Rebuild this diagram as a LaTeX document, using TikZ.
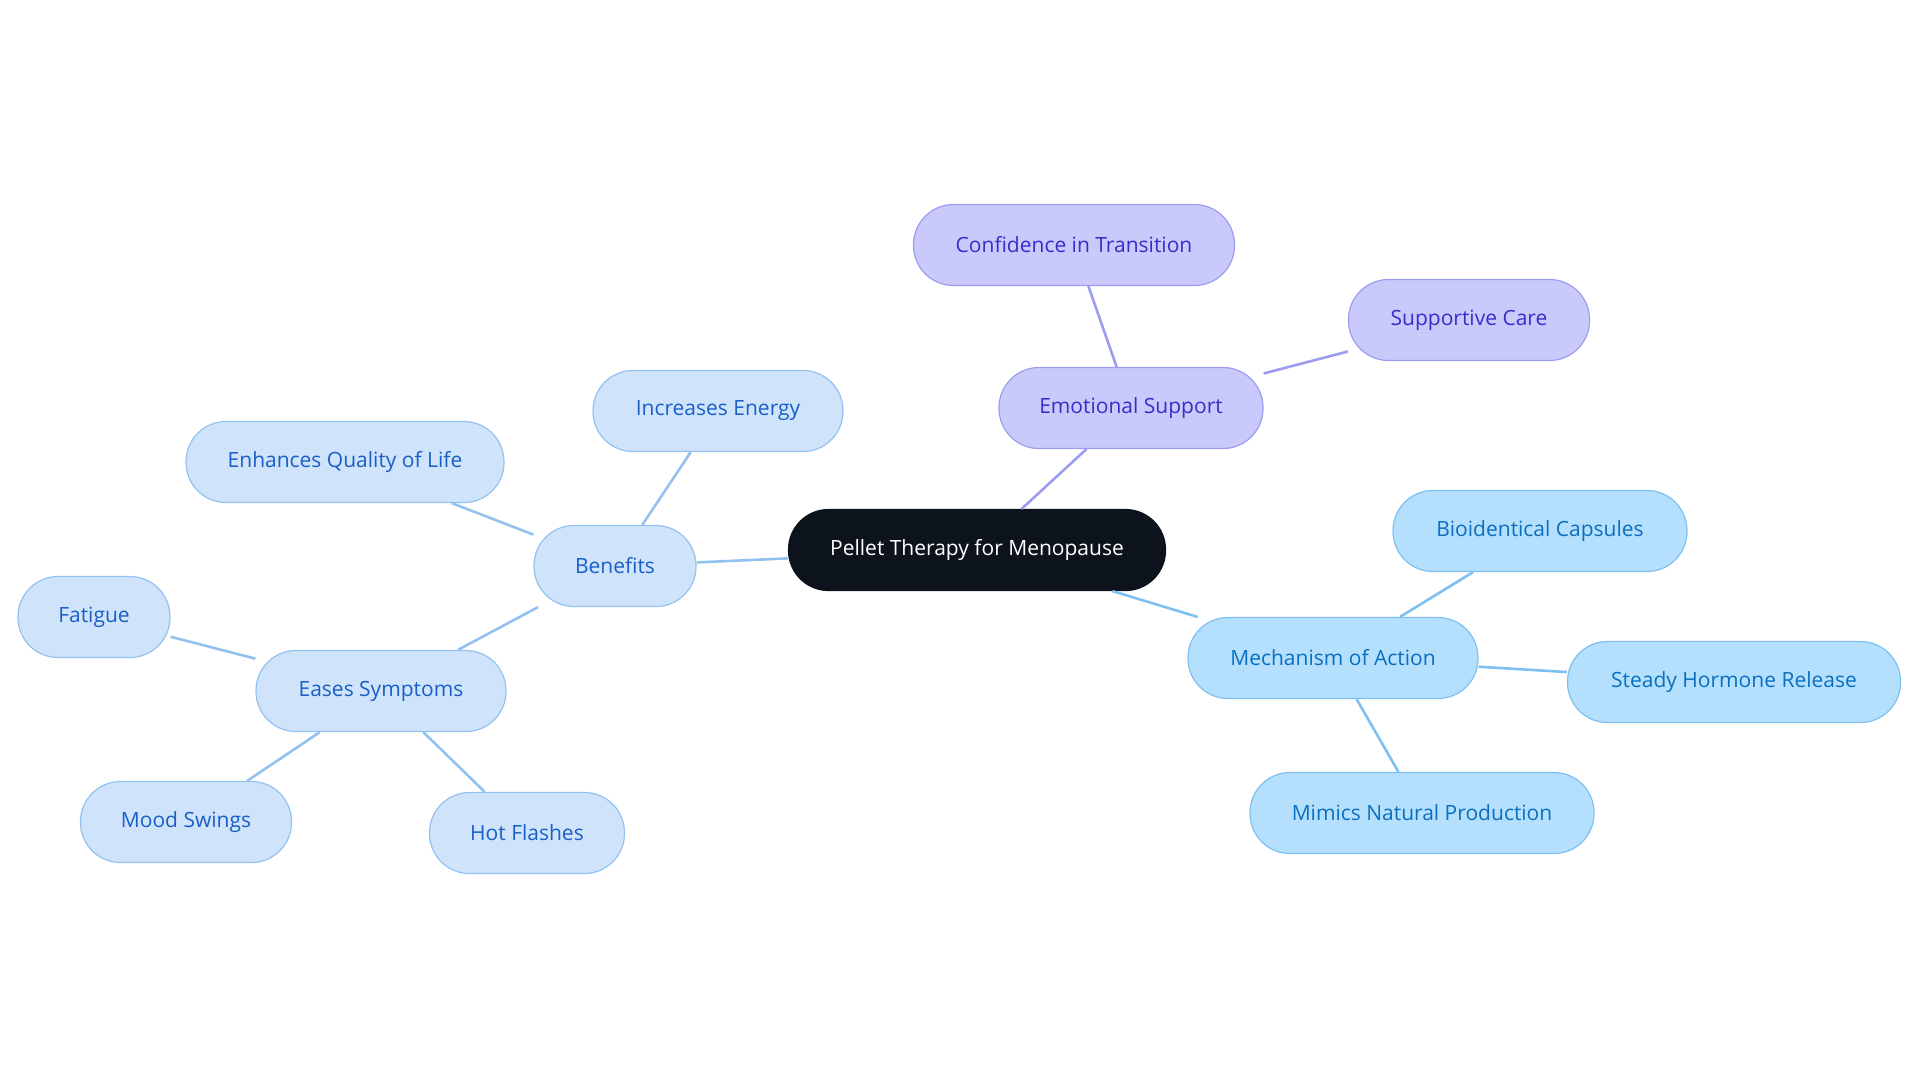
\documentclass[tikz,border=0pt]{standalone}
\usepackage{fontspec}
\setmainfont{Open Sans}
\usetikzlibrary{positioning}
\definecolor{bleuFond}{HTML}{CFE3FB}
\definecolor{bleuBord}{HTML}{93C2F0}
\definecolor{bleuTexte}{HTML}{1A5FC8}
\definecolor{violetFond}{HTML}{C9C9FC}
\definecolor{violetBord}{HTML}{9C9CF0}
\definecolor{violetTexte}{HTML}{3A2CC8}
\definecolor{cielFond}{HTML}{B5E0FD}
\definecolor{cielBord}{HTML}{7EC0F0}
\definecolor{cielTexte}{HTML}{0A6FC0}
\definecolor{noirFond}{HTML}{0D131D}
\tikzset{
    bulle/.style={rounded corners=20pt, minimum height=40.5pt, font=\fontsize{10.5}{12}\selectfont, line width=0.6pt, inner sep=0pt},
    bleu/.style={bulle, fill=bleuFond, draw=bleuBord, text=bleuTexte},
    violet/.style={bulle, fill=violetFond, draw=violetBord, text=violetTexte},
    ciel/.style={bulle, fill=cielFond, draw=cielBord, text=cielTexte},
    centre/.style={bulle, fill=noirFond, draw=noirFond, text=white},
    lien bleu/.style={draw=bleuBord, line width=1.3pt},
    lien violet/.style={draw=violetBord, line width=1.3pt},
    lien ciel/.style={draw=cielBord, line width=1.3pt},
}
\begin{document}
\begin{tikzpicture}[x=0.5pt, y=-0.5pt]
\useasboundingbox (0,0) rectangle (1920,1083);
% Noeud central
\node[centre, minimum width=188.5pt] (pellet) at (977,550) {Pellet Therapy for Menopause};
% Branche emotionnelle
\node[violet, minimum width=132pt] (emotion) at (1131,408) {Emotional Support};
\node[violet, minimum width=160.5pt] (confiance) at (1074,245) {Confidence in Transition};
\node[violet, minimum width=120.5pt] (soutien) at (1469,320) {Supportive Care};
% Branche mecanisme
\node[ciel, minimum width=145pt] (mecanisme) at (1333,658) {Mechanism of Action};
\node[ciel, minimum width=147pt] (capsules) at (1540,531) {Bioidentical Capsules};
\node[ciel, minimum width=166.5pt] (liberation) at (1734,682) {Steady Hormone Release};
\node[ciel, minimum width=172pt] (imitation) at (1422,813) {Mimics Natural Production};
% Branche benefices
\node[bleu, minimum width=81pt] (benefices) at (615,566) {Benefits};
\node[bleu, minimum width=125pt] (energie) at (718,411) {Increases Energy};
\node[bleu, minimum width=159pt] (qualite) at (345,462) {Enhances Quality of Life};
\node[bleu, minimum width=125pt] (symptomes) at (381,691) {Eases Symptoms};
\node[bleu, minimum width=76pt] (fatigue) at (94,617) {Fatigue};
\node[bleu, minimum width=105.5pt] (humeur) at (186,822) {Mood Swings};
\node[bleu, minimum width=97.5pt] (bouffees) at (527,833) {Hot Flashes};
% Liens
\draw[lien violet] (pellet) -- (emotion);
\draw[lien violet] (emotion) -- (confiance);
\draw[lien violet] (emotion) -- (soutien);
\draw[lien ciel] (pellet) -- (mecanisme);
\draw[lien ciel] (mecanisme) -- (capsules);
\draw[lien ciel] (mecanisme) -- (liberation);
\draw[lien ciel] (mecanisme) -- (imitation);
\draw[lien bleu] (pellet) -- (benefices);
\draw[lien bleu] (benefices) -- (energie);
\draw[lien bleu] (benefices) -- (qualite);
\draw[lien bleu] (benefices) -- (symptomes);
\draw[lien bleu] (symptomes) -- (fatigue);
\draw[lien bleu] (symptomes) -- (humeur);
\draw[lien bleu] (symptomes) -- (bouffees);
\end{tikzpicture}
\end{document}
